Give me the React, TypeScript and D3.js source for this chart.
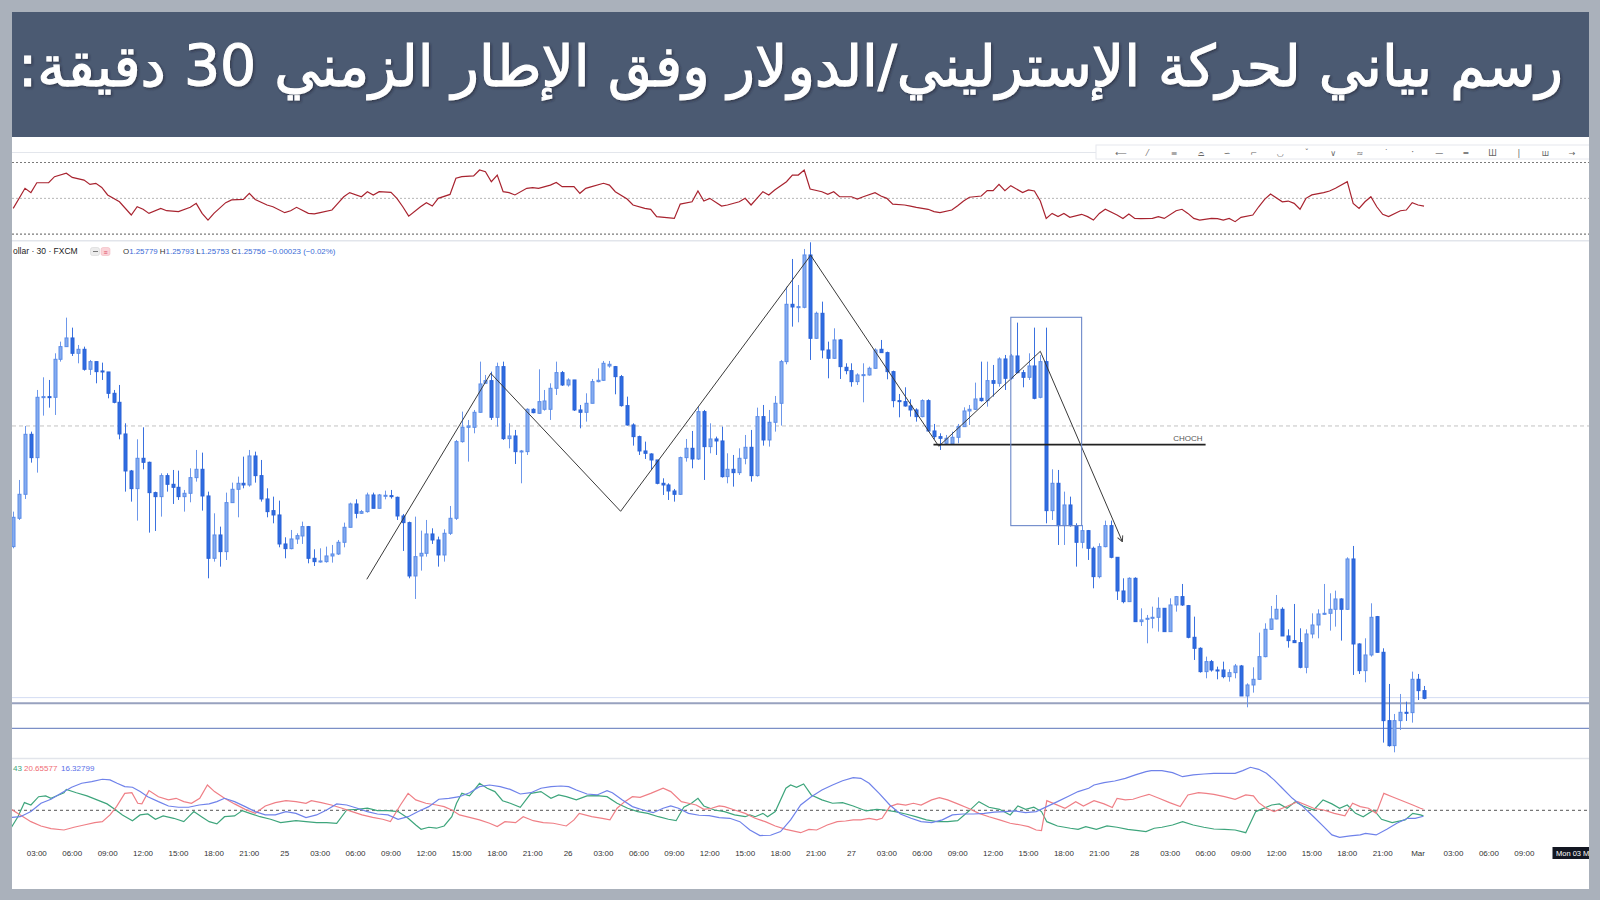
import React from "react";
import * as d3 from "d3";

const TITLE = "رسم بياني لحركة الإسترليني/الدولار وفق الإطار الزمني 30 دقيقة:";
const SYMBOL_VISIBLE = "ollar · 30 · FXCM";
const FIRST_INDEX = 2;

const opens = [
  1.26211, 1.26296, 1.26368, 1.26548, 1.26478, 1.26659, 1.26661, 1.26659, 1.26773, 1.26811,
  1.26837, 1.26791, 1.26803, 1.26743, 1.26766, 1.26738, 1.26735, 1.26671, 1.26644, 1.26549,
  1.26438, 1.26385, 1.26476, 1.26464, 1.26373, 1.26361, 1.26424, 1.26398, 1.26389, 1.26361,
  1.26371, 1.26418, 1.26443, 1.26363, 1.26176, 1.26246, 1.26196, 1.26343, 1.26383, 1.26401,
  1.26396, 1.26483, 1.26424, 1.26354, 1.26319, 1.26306, 1.26219, 1.26205, 1.26234, 1.26243,
  1.26271, 1.26176, 1.26166, 1.26166, 1.26183, 1.26189, 1.26224, 1.26269, 1.26339, 1.26311,
  1.26316, 1.26366, 1.26326, 1.26363, 1.26364, 1.26359, 1.26303, 1.26283, 1.26123, 1.26183,
  1.26191, 1.26249, 1.26231, 1.26186, 1.26251, 1.26296, 1.26526, 1.26569, 1.26569, 1.26614,
  1.26701, 1.26709, 1.26599, 1.26751, 1.26535, 1.26543, 1.26496, 1.26496, 1.26623, 1.26611,
  1.26623, 1.26623, 1.26686, 1.26733, 1.26696, 1.26711, 1.26621, 1.26614, 1.26641, 1.26706,
  1.26710, 1.26753, 1.26751, 1.26721, 1.26634, 1.26576, 1.26541, 1.26498, 1.26489, 1.26471,
  1.26401, 1.26396, 1.26378, 1.26368, 1.26478, 1.26506, 1.26474, 1.26616, 1.26511, 1.26534,
  1.26528, 1.26421, 1.26443, 1.26433, 1.26476, 1.26509, 1.26424, 1.26601, 1.26531, 1.26584,
  1.26641, 1.26766, 1.26938, 1.26930, 1.26929, 1.27086, 1.26836, 1.26911, 1.26801, 1.26776,
  1.26831, 1.26749, 1.26739, 1.26706, 1.26726, 1.26726, 1.26746, 1.26803, 1.26793, 1.26736,
  1.26649, 1.26646, 1.26633, 1.26621, 1.26601, 1.26649, 1.26558, 1.26541, 1.26521, 1.26519,
  1.26539, 1.26571, 1.26618, 1.26623, 1.26656, 1.26649, 1.26709, 1.26701, 1.26774, 1.26716,
  1.26783, 1.26733, 1.26719, 1.26753, 1.26659, 1.26766, 1.26319, 1.26401, 1.26274, 1.26336,
  1.26274, 1.26224, 1.26259, 1.26206, 1.26121, 1.26211, 1.26274, 1.26179, 1.26078, 1.26046,
  1.26116, 1.25986, 1.25993, 1.25996, 1.25999, 1.26026, 1.25956, 1.26036, 1.26061, 1.26034,
  1.25939, 1.25906, 1.25836, 1.25866, 1.25841, 1.25841, 1.25821, 1.25833, 1.25853, 1.25763,
  1.25796, 1.25813, 1.25881, 1.25963, 1.25994, 1.26023, 1.25943, 1.25929, 1.25923, 1.25849,
  1.25949, 1.25976, 1.26009, 1.26011, 1.26023, 1.26054, 1.26023, 1.26174, 1.25919, 1.25839,
  1.25886, 1.26001, 1.25894, 1.25689, 1.25614, 1.25689, 1.25714, 1.25713, 1.25813, 1.25779,
];
const highs = [
  1.26316, 1.26411, 1.26573, 1.26556, 1.26681, 1.26719, 1.26711, 1.26791, 1.26826, 1.26898,
  1.26868, 1.26816, 1.26811, 1.26771, 1.26766, 1.26763, 1.26735, 1.26681, 1.26696, 1.26581,
  1.26441, 1.26533, 1.26569, 1.26466, 1.26376, 1.26431, 1.26431, 1.26441, 1.26439, 1.26381,
  1.26446, 1.26501, 1.26493, 1.26376, 1.26311, 1.26271, 1.26373, 1.26403, 1.26421, 1.26481,
  1.26501, 1.26496, 1.26471, 1.26386, 1.26361, 1.26349, 1.26239, 1.26261, 1.26251, 1.26286,
  1.26273, 1.26203, 1.26206, 1.26211, 1.26216, 1.26231, 1.26283, 1.26343, 1.26353, 1.26321,
  1.26373, 1.26373, 1.26369, 1.26379, 1.26381, 1.26361, 1.26309, 1.26286, 1.26301, 1.26259,
  1.26291, 1.26266, 1.26241, 1.26263, 1.26333, 1.26531, 1.26616, 1.26591, 1.26621, 1.26766,
  1.26726, 1.26736, 1.26763, 1.26766, 1.26581, 1.26561, 1.26501, 1.26626, 1.26626, 1.26743,
  1.26681, 1.26701, 1.26766, 1.26738, 1.26716, 1.26711, 1.26636, 1.26671, 1.26714, 1.26746,
  1.26768, 1.26768, 1.26753, 1.26726, 1.26661, 1.26581, 1.26544, 1.26526, 1.26491, 1.26471,
  1.26416, 1.26401, 1.26384, 1.26481, 1.26534, 1.26558, 1.26631, 1.26621, 1.26581, 1.26541,
  1.26571, 1.26491, 1.26486, 1.26506, 1.26546, 1.26561, 1.26628, 1.26636, 1.26621, 1.26663,
  1.26771, 1.26991, 1.27074, 1.26996, 1.27104, 1.27124, 1.26916, 1.26946, 1.26826, 1.26866,
  1.26834, 1.26761, 1.26761, 1.26731, 1.26761, 1.26751, 1.26806, 1.26831, 1.26796, 1.26739,
  1.26669, 1.26689, 1.26653, 1.26626, 1.26653, 1.26653, 1.26579, 1.26551, 1.26546, 1.26556,
  1.26579, 1.26629, 1.26636, 1.26703, 1.26766, 1.26766, 1.26756, 1.26779, 1.26786, 1.26789,
  1.26883, 1.26741, 1.26791, 1.26868, 1.26786, 1.26868, 1.26443, 1.26441, 1.26376, 1.26361,
  1.26281, 1.26276, 1.26261, 1.26211, 1.26221, 1.26289, 1.26289, 1.26179, 1.26116, 1.26119,
  1.26119, 1.26026, 1.26006, 1.26031, 1.26059, 1.26026, 1.26056, 1.26063, 1.26099, 1.26036,
  1.26001, 1.25909, 1.25881, 1.25871, 1.25851, 1.25866, 1.25843, 1.25859, 1.25856, 1.25801,
  1.25849, 1.25953, 1.25981, 1.26033, 1.26066, 1.26029, 1.25963, 1.26039, 1.25966, 1.25963,
  1.26011, 1.26023, 1.26099, 1.26071, 1.26079, 1.26056, 1.26179, 1.26213, 1.25921, 1.25936,
  1.26041, 1.26003, 1.25906, 1.25799, 1.25709, 1.25769, 1.25746, 1.25836, 1.25829, 1.25793,
];
const lows = [
  1.26206, 1.26291, 1.26354, 1.26463, 1.26433, 1.26604, 1.26628, 1.26606, 1.26766, 1.26811,
  1.26783, 1.26761, 1.26739, 1.26726, 1.26701, 1.26711, 1.26656, 1.26641, 1.26533, 1.26376,
  1.26346, 1.26289, 1.26443, 1.26253, 1.26258, 1.26301, 1.26376, 1.26339, 1.26351, 1.26316,
  1.26344, 1.26406, 1.26319, 1.26116, 1.26166, 1.26151, 1.26171, 1.26343, 1.26299, 1.26386,
  1.26391, 1.26403, 1.26346, 1.26299, 1.26281, 1.26209, 1.26176, 1.26203, 1.26219, 1.26219,
  1.26161, 1.26153, 1.26163, 1.26163, 1.26163, 1.26186, 1.26209, 1.26269, 1.26296, 1.26309,
  1.26313, 1.26326, 1.26326, 1.26353, 1.26355, 1.26291, 1.26198, 1.26116, 1.26054, 1.26139,
  1.26181, 1.26219, 1.26151, 1.26166, 1.26246, 1.26291, 1.26523, 1.26466, 1.26551, 1.26613,
  1.26701, 1.26591, 1.26571, 1.26531, 1.26506, 1.26459, 1.26401, 1.26486, 1.26611, 1.26609,
  1.26619, 1.26591, 1.26666, 1.26693, 1.26691, 1.26618, 1.26566, 1.26586, 1.26641, 1.26704,
  1.26708, 1.26748, 1.26668, 1.26631, 1.26574, 1.26514, 1.26486, 1.26474, 1.26441, 1.26398,
  1.26366, 1.26351, 1.26346, 1.26366, 1.26466, 1.26446, 1.26471, 1.26411, 1.26491, 1.26486,
  1.26418, 1.26401, 1.26391, 1.26426, 1.26458, 1.26406, 1.26421, 1.26514, 1.26511, 1.26556,
  1.26574, 1.26758, 1.26871, 1.26884, 1.26926, 1.26771, 1.26834, 1.26776, 1.26716, 1.26774,
  1.26714, 1.26728, 1.26691, 1.26696, 1.26644, 1.26724, 1.26744, 1.26793, 1.26713, 1.26629,
  1.26599, 1.26631, 1.26601, 1.26586, 1.26599, 1.26556, 1.26533, 1.26501, 1.26519, 1.26516,
  1.26521, 1.26571, 1.26576, 1.26621, 1.26646, 1.26631, 1.26661, 1.26691, 1.26681, 1.26711,
  1.26731, 1.26689, 1.26711, 1.26653, 1.26656, 1.26281, 1.26291, 1.26216, 1.26216, 1.26271,
  1.26151, 1.26206, 1.26171, 1.26086, 1.26116, 1.26209, 1.26176, 1.26051, 1.26041, 1.26046,
  1.25986, 1.25973, 1.25921, 1.25966, 1.25956, 1.25956, 1.25956, 1.26016, 1.26033, 1.25936,
  1.25871, 1.25833, 1.25816, 1.25836, 1.25813, 1.25816, 1.25806, 1.25816, 1.25763, 1.25729,
  1.25773, 1.25811, 1.25879, 1.25961, 1.25993, 1.25943, 1.25908, 1.25923, 1.25846, 1.25831,
  1.25936, 1.25936, 1.26006, 1.25959, 1.25971, 1.25929, 1.26021, 1.25826, 1.25829, 1.25804,
  1.25881, 1.25893, 1.25623, 1.25611, 1.25594, 1.25661, 1.25688, 1.25683, 1.25751, 1.25753,
];
const closes = [
  1.26299, 1.26368, 1.26548, 1.26478, 1.26659, 1.26661, 1.26659, 1.26773, 1.26811, 1.26837,
  1.26791, 1.26803, 1.26743, 1.26766, 1.26736, 1.26735, 1.26671, 1.26644, 1.26549, 1.26438,
  1.26385, 1.26476, 1.26464, 1.26373, 1.26361, 1.26424, 1.26398, 1.26389, 1.26361, 1.26371,
  1.26418, 1.26443, 1.26363, 1.26176, 1.26246, 1.26196, 1.26343, 1.26383, 1.26401, 1.26396,
  1.26483, 1.26424, 1.26354, 1.26316, 1.26306, 1.26219, 1.26205, 1.26234, 1.26244, 1.26271,
  1.26176, 1.26166, 1.26168, 1.26183, 1.26189, 1.26224, 1.26269, 1.26339, 1.26311, 1.26316,
  1.26366, 1.26326, 1.26366, 1.26365, 1.26362, 1.26303, 1.26283, 1.26123, 1.26181, 1.26191,
  1.26249, 1.26231, 1.26186, 1.26251, 1.26296, 1.26526, 1.26569, 1.26573, 1.26614, 1.26699,
  1.26709, 1.26599, 1.26751, 1.26535, 1.26543, 1.26496, 1.26498, 1.26623, 1.26613, 1.26646,
  1.26648, 1.26686, 1.26733, 1.26696, 1.26711, 1.26621, 1.26614, 1.26641, 1.26706, 1.26710,
  1.26761, 1.26758, 1.26721, 1.26634, 1.26576, 1.26541, 1.26498, 1.26491, 1.26471, 1.26401,
  1.26396, 1.26378, 1.26368, 1.26478, 1.26506, 1.26474, 1.26616, 1.26511, 1.26534, 1.26528,
  1.26421, 1.26443, 1.26433, 1.26476, 1.26509, 1.26424, 1.26601, 1.26531, 1.26584, 1.26641,
  1.26766, 1.26938, 1.26930, 1.26931, 1.27086, 1.26836, 1.26911, 1.26801, 1.26776, 1.26831,
  1.26751, 1.26739, 1.26706, 1.26726, 1.26727, 1.26746, 1.26801, 1.26793, 1.26736, 1.26649,
  1.26646, 1.26633, 1.26621, 1.26601, 1.26649, 1.26558, 1.26541, 1.26536, 1.26536, 1.26539,
  1.26571, 1.26618, 1.26623, 1.26654, 1.26649, 1.26709, 1.26701, 1.26774, 1.26716, 1.26783,
  1.26733, 1.26719, 1.26753, 1.26656, 1.26766, 1.26319, 1.26401, 1.26274, 1.26336, 1.26274,
  1.26224, 1.26259, 1.26206, 1.26121, 1.26211, 1.26274, 1.26179, 1.26078, 1.26046, 1.26116,
  1.25986, 1.25991, 1.25996, 1.25999, 1.26026, 1.25956, 1.26036, 1.26061, 1.26036, 1.25939,
  1.25906, 1.25836, 1.25866, 1.25841, 1.25839, 1.25821, 1.25833, 1.25853, 1.25763, 1.25796,
  1.25813, 1.25881, 1.25963, 1.25994, 1.26023, 1.25943, 1.25929, 1.25923, 1.25849, 1.25949,
  1.25976, 1.26009, 1.26011, 1.26023, 1.26054, 1.26023, 1.26174, 1.25919, 1.25839, 1.25886,
  1.25999, 1.25894, 1.25689, 1.25614, 1.25689, 1.25714, 1.25713, 1.25813, 1.25779, 1.25756,
];

// RSI readings: [candle index, value]
const rsiPoints: [number, number][] = [
  [2,44.4],[4,55.6],[5,53.2],[6,58.7],[8,58.7],[9,62.1],[11,64.0],[12,61.7],[14,60.2],[15,57.8],
  [16,58.4],[17,56.1],[18,51.9],[20,48.1],[22,40.7],[23,45.3],[24,43.9],[25,41.6],[27,44.4],[28,43.1],
  [30,42.6],[32,45.0],[33,47.2],[34,41.6],[35,37.9],[36,41.6],[38,47.6],[39,49.1],[41,49.4],[42,52.8],
  [43,49.4],[45,46.3],[46,45.3],[48,42.0],[49,43.1],[50,45.0],[52,41.6],[53,41.3],[54,42.0],[56,43.5],
  [57,47.2],[58,50.9],[59,53.2],[61,50.9],[62,53.7],[63,51.9],[64,53.7],[66,53.3],[67,50.0],[68,45.3],
  [69,40.1],[71,45.3],[72,47.6],[73,45.7],[74,50.0],[76,52.2],[77,61.2],[78,62.1],[80,62.5],[81,65.8],
  [82,64.9],[83,59.3],[84,63.0],[85,53.7],[86,53.2],[87,51.9],[89,55.6],[90,56.0],[91,55.6],[93,57.4],
  [94,58.9],[95,56.5],[97,56.5],[98,52.8],[99,55.6],[100,56.5],[102,58.4],[103,57.4],[104,53.7],[106,49.6],
  [107,46.3],[109,44.4],[110,43.9],[111,39.8],[114,38.8],[115,46.8],[117,48.1],[118,54.1],[119,48.5],[120,50.0],
  [122,45.7],[123,46.3],[125,48.1],[126,50.0],[127,46.3],[129,53.7],[130,51.9],[131,54.7],[133,59.3],[134,63.0],
  [135,63.0],[136,65.8],[137,55.2],[139,53.7],[140,52.2],[141,53.7],[142,50.9],[144,50.9],[145,49.6],[146,50.9],
  [148,53.2],[149,51.3],[150,50.0],[151,46.8],[153,46.3],[154,45.7],[155,45.0],[157,43.9],[158,42.6],[159,42.0],
  [161,43.5],[162,45.9],[163,48.5],[164,50.6],[166,51.3],[167,54.3],[168,54.3],[169,57.8],[170,54.3],[171,57.1],
  [173,53.2],[174,54.7],[175,54.1],[176,48.5],[177,38.8],[178,41.6],[179,39.8],[180,41.6],[181,39.4],[183,41.1],
  [184,39.8],[185,37.9],[186,41.6],[187,43.9],[189,40.7],[190,38.8],[191,41.3],[192,38.8],[193,38.7],[195,38.8],
  [196,39.8],[197,38.8],[199,43.1],[200,43.9],[201,41.6],[202,38.8],[203,37.9],[205,38.8],[206,38.7],[207,37.9],
  [208,38.8],[209,37.0],[210,39.4],[212,40.7],[213,45.3],[214,49.4],[215,52.4],[217,48.1],[218,48.5],[219,47.2],
  [220,43.9],[221,50.0],[222,51.9],[224,53.2],[225,54.1],[226,55.6],[228,59.3],[229,47.2],[230,44.4],[231,48.1],
  [232,50.9],[233,45.3],[234,41.1],[235,39.8],[237,43.1],[238,43.5],[239,47.6],[240,46.3],[241,45.7],
];

// Directional-movement pane readings: [candle index, value]
const dmiBlue: [number, number][] = [
  [1.7,15.6],[3.2,16.0],[5.0,19.2],[6.7,24.4],[8.4,26.9],[10.1,30.6],[11.9,34.4],[13.6,36.9],[15.3,37.9],[17.1,39.4],
  [18.4,39.0],[19.6,36.9],[20.9,34.8],[22.2,34.4],[23.5,31.7],[24.8,28.5],[26.6,25.4],[28.3,22.7],[30.0,21.9],[31.7,21.9],
  [33.5,23.3],[35.2,24.0],[36.5,25.4],[37.8,27.5],[39.5,25.4],[41.3,22.3],[43.0,19.2],[44.7,17.1],[46.4,17.1],[48.2,19.2],
  [49.9,18.1],[51.6,15.4],[53.4,17.1],[55.1,20.2],[56.8,24.0],[58.5,23.3],[60.3,21.3],[62.0,19.2],[63.7,17.7],[65.5,17.1],
  [67.2,14.4],[68.9,16.0],[70.6,19.2],[72.4,22.3],[74.1,26.9],[75.8,27.5],[77.6,28.5],[79.3,31.0],[81.0,34.8],[82.7,35.8],
  [84.5,34.8],[86.2,33.1],[87.9,30.2],[89.7,31.0],[91.4,33.8],[93.1,34.8],[94.8,35.2],[96.1,34.8],[97.4,32.7],[99.2,30.2],
  [100.9,29.6],[102.6,32.3],[103.5,31.0],[105.2,26.5],[106.9,22.3],[108.7,20.2],[110.4,18.5],[112.1,21.3],[113.4,22.7],[114.7,21.3],
  [116.4,18.1],[118.2,16.9],[119.9,16.7],[121.6,15.4],[123.4,15.0],[125.1,12.9],[126.8,7.7],[128.5,4.2],[130.3,4.4],[132.0,6.7],
  [133.7,14.0],[135.4,23.3],[137.2,28.5],[139.0,32.7],[140.8,35.8],[142.5,38.5],[144.3,40.4],[145.6,40.0],[147.0,36.9],[148.7,30.6],
  [150.5,23.3],[152.3,17.7],[154.1,15.0],[155.8,12.9],[157.6,12.3],[159.4,14.0],[161.1,17.1],[162.9,17.7],[164.7,17.7],[166.5,18.1],
  [168.2,18.8],[170.0,19.2],[171.8,19.6],[173.5,18.5],[175.3,19.2],[177.1,22.3],[178.9,25.4],[180.6,28.5],[182.4,31.7],[184.2,33.8],
  [185.1,35.8],[186.8,37.3],[188.6,38.3],[190.4,40.0],[192.1,42.1],[193.9,44.2],[194.8,44.8],[196.6,44.8],[198.4,43.5],[200.1,41.0],
  [201.9,42.1],[203.7,42.7],[205.4,43.1],[207.2,43.1],[209.0,43.1],[210.3,44.8],[211.6,46.9],[213.0,45.6],[214.3,43.1],[215.6,39.0],
  [217.0,33.8],[218.7,27.5],[220.5,22.3],[222.3,16.0],[224.0,9.8],[225.4,4.6],[226.7,3.1],[228.5,4.0],[230.2,4.6],[231.1,5.6],
  [232.9,4.6],[234.7,8.1],[236.4,11.9],[238.2,15.0],[239.5,15.0],[240.9,16.3],
];
const dmiRed: [number, number][] = [
  [1.7,20.6],[3.2,17.1],[5.0,12.9],[6.7,10.2],[8.4,8.5],[10.6,7.7],[12.3,9.4],[14.0,10.8],[15.8,12.3],[17.1,12.9],
  [18.4,17.1],[19.5,22.3],[20.9,30.6],[22.1,31.0],[23.1,24.4],[23.8,24.0],[25.0,32.3],[26.6,28.5],[28.3,26.5],[29.6,27.5],
  [30.9,25.4],[32.2,24.4],[33.6,27.5],[34.9,35.8],[36.1,31.7],[37.8,27.5],[39.5,24.0],[41.3,20.6],[43.0,18.1],[44.7,22.7],
  [46.4,24.8],[48.2,26.0],[49.9,25.4],[51.6,24.4],[52.5,26.0],[54.2,24.8],[55.9,23.3],[57.7,21.3],[59.4,19.2],[61.1,17.1],
  [62.9,15.6],[64.6,14.4],[65.9,12.9],[67.6,23.3],[68.9,30.6],[70.2,26.5],[71.9,24.4],[73.7,23.3],[75.0,22.3],[76.3,20.2],
  [77.6,17.1],[79.3,15.6],[81.0,14.0],[82.7,11.9],[84.0,9.8],[85.3,12.9],[87.1,12.3],[88.4,16.0],[90.1,13.5],[91.8,12.3],
  [93.5,11.9],[95.7,10.2],[97.0,14.0],[97.9,18.1],[100.0,16.0],[101.8,15.0],[103.1,14.0],[104.3,21.3],[105.6,25.4],[106.9,28.5],
  [108.2,28.1],[110.0,30.6],[112.1,33.8],[113.4,31.7],[115.2,25.4],[116.4,24.4],[117.7,23.3],[119.0,20.6],[120.3,21.3],[121.6,22.7],
  [122.5,22.3],[124.2,20.2],[126.0,18.1],[127.7,15.0],[129.4,12.9],[131.1,10.2],[132.9,8.1],[135.4,6.0],[136.8,8.1],[138.1,7.7],
  [139.9,10.8],[141.6,12.9],[143.0,13.3],[144.3,14.0],[145.6,14.0],[147.0,15.0],[148.3,14.0],[149.2,15.0],[150.5,22.3],[151.8,24.0],
  [153.2,23.3],[154.5,24.4],[155.8,23.3],[157.6,26.5],[158.9,27.9],[160.3,26.5],[162.0,24.0],[163.8,21.3],[165.6,18.1],[167.3,16.0],
  [169.1,14.0],[170.9,11.9],[172.7,10.8],[174.0,9.8],[175.3,7.7],[176.2,7.3],[177.1,26.0],[178.4,24.0],[180.2,21.3],[182.0,25.4],
  [183.3,22.7],[185.1,26.0],[186.8,24.0],[188.2,21.7],[189.0,27.5],[190.4,26.5],[191.7,26.9],[193.0,28.5],[194.4,30.0],[196.1,27.5],
  [197.9,24.8],[199.7,22.3],[201.0,29.6],[202.8,31.0],[204.1,30.6],[205.4,30.0],[207.2,28.5],[209.0,26.9],[210.8,29.6],[212.1,29.0],
  [213.0,24.8],[214.3,21.3],[215.6,19.2],[217.0,21.3],[218.3,23.3],[219.6,25.4],[221.0,23.3],[222.3,21.3],[224.0,20.2],[225.8,18.1],
  [227.6,16.5],[228.9,24.4],[230.2,22.3],[231.6,21.3],[232.9,18.1],[234.2,30.6],[235.6,28.5],[237.3,26.0],[239.1,23.3],[240.4,21.3],
  [240.9,20.66],
];
const dmiGreen: [number, number][] = [
  [1.7,9.4],[2.8,16.0],[3.9,24.8],[5.0,23.3],[6.3,28.5],[7.5,29.0],[8.4,27.5],[9.7,29.6],[10.6,31.0],[11.0,33.1],
  [12.7,31.0],[14.5,29.0],[16.2,26.5],[17.9,24.0],[19.2,20.6],[20.5,17.1],[22.2,13.5],[23.5,17.1],[24.8,17.7],[26.1,14.4],
  [27.4,16.5],[29.2,15.0],[30.9,12.9],[32.6,19.2],[33.9,16.0],[35.2,12.9],[36.5,11.5],[37.8,16.0],[39.5,16.5],[40.8,19.8],
  [42.1,18.1],[43.8,16.0],[45.6,14.4],[47.3,12.3],[48.6,12.9],[49.9,13.5],[51.6,12.9],[53.4,12.3],[55.1,12.3],[56.8,11.9],
  [58.5,20.2],[60.3,20.6],[62.0,21.3],[63.7,19.8],[65.5,19.8],[67.2,19.2],[68.9,15.0],[70.2,10.8],[71.1,8.1],[72.4,9.4],
  [73.7,8.8],[75.0,10.2],[76.3,16.0],[77.1,24.4],[78.0,30.6],[79.3,29.0],[81.0,36.9],[82.3,33.8],[83.6,31.7],[84.9,26.0],
  [86.2,24.4],[87.9,21.9],[89.7,30.6],[91.4,31.7],[93.1,27.5],[94.4,29.6],[95.7,28.5],[97.4,26.5],[99.2,29.0],[100.9,29.2],
  [102.6,28.5],[104.3,24.4],[106.1,21.3],[107.8,19.2],[109.5,18.1],[111.3,16.0],[113.0,14.4],[114.3,13.5],[115.6,21.9],[116.9,24.4],
  [118.0,27.5],[119.0,22.7],[120.8,20.2],[122.5,19.2],[124.2,17.1],[126.0,16.0],[126.8,17.1],[127.7,16.0],[129.0,18.1],[129.8,16.0],
  [131.1,19.2],[132.9,33.8],[133.7,35.8],[134.7,34.4],[135.9,36.5],[137.2,29.6],[139.0,26.5],[140.8,24.4],[142.5,24.8],[144.3,22.7],
  [146.5,19.6],[148.3,20.6],[149.6,20.2],[151.4,19.2],[153.2,17.7],[154.9,16.0],[156.7,14.0],[158.5,12.9],[160.3,12.9],[162.0,13.5],
  [163.8,19.2],[165.6,25.4],[167.3,21.9],[169.1,20.6],[170.9,17.1],[172.2,22.7],[173.5,20.6],[174.9,21.9],[176.2,19.2],[177.1,12.9],
  [178.9,10.2],[181.1,8.8],[182.4,8.1],[183.7,9.8],[185.5,8.1],[187.3,10.2],[189.0,9.4],[190.8,8.1],[192.6,7.3],[193.9,6.7],
  [195.3,8.8],[196.6,9.4],[198.4,10.8],[200.1,12.9],[201.9,10.8],[203.7,9.4],[205.4,8.3],[207.2,8.1],[209.0,7.7],[210.8,6.0],
  [212.5,19.2],[213.4,20.6],[215.2,23.3],[216.5,24.0],[217.8,21.3],[219.2,25.4],[220.5,22.7],[222.3,20.2],[223.9,26.5],[225.4,24.0],
  [226.7,21.3],[228.0,23.3],[229.4,18.1],[230.7,16.0],[232.5,20.2],[233.8,14.4],[235.6,12.3],[237.8,14.0],[239.1,18.1],[240.4,17.1],
  [240.9,16.5],
];

// Swing zigzag drawn on the price pane: [candle index, price]
const zigzag: [number, number][] = [
  [61.9, 1.26113], [82.9, 1.26731], [104.9, 1.26317], [137.1, 1.27085],
  [158.8, 1.26512], [176.0, 1.26797], [189.9, 1.26226],
];
const chochLevel = 1.26517;
const chochFrom = 157.9;
const chochTo = 204.0;
const chochLabelAt = 201.0;
const boxFrom = 171.0, boxTo = 183.0, boxTop = 1.26899, boxBottom = 1.26274;
const dashedLevel = 1.26573;
const supportLevels = [1.25741, 1.25666];
const lastPriceLevel = 1.25758;

const tickLabels = [
  "03:00","06:00","09:00","12:00","15:00","18:00","21:00","25",
  "03:00","06:00","09:00","12:00","15:00","18:00","21:00","26",
  "03:00","06:00","09:00","12:00","15:00","18:00","21:00","27",
  "03:00","06:00","09:00","12:00","15:00","18:00","21:00","28",
  "03:00","06:00","09:00","12:00","15:00","18:00","21:00","Mar",
  "03:00","06:00","09:00",
];
const TICK_STEP = 6;
const CROSSHAIR_LABEL = "Mon 03 M";
const dmiLegend = ["43", "20.65577", "16.32799"];
const toolbarGlyphs = ["⟵","⁄","≡","⌓","∽","⌐","◡","ˇ","∨","≈","˙","ˑ","—","═","Ш","|","ш","→"];

const FONT = "'Liberation Sans', Arial, sans-serif";

export default function App() {
  const x = d3.scaleLinear().domain([0, 240]).range([1.4, 1418.1]);
  const yP = d3.scaleLinear().domain([1.25756, 1.27256]).range([698.3, 198.3]);
  const yR = d3.scaleLinear().domain([30, 70]).range([234.2, 162.5]);
  const yD = d3.scaleLinear().domain([20, 40]).range([810.3, 778.3]);

  const rsiLine = d3.line<[number, number]>().x((d) => x(d[0])).y((d) => yR(d[1]));
  const dmiLine = d3.line<[number, number]>().x((d) => x(d[0])).y((d) => yD(d[1]));
  const zigLine = d3.line<[number, number]>().x((d) => x(d[0])).y((d) => yP(d[1]));
  const toolX = d3.scalePoint<number>().domain(d3.range(toolbarGlyphs.length)).range([1121, 1572]);

  const L = 12, R = 1589, T = 137, B = 889;

  return (
    <svg width={1600} height={900} viewBox="0 0 1600 900"
      style={{ position: "absolute", left: 0, top: 0, display: "block" }}>
      <defs>
        <clipPath id="chartClip"><rect x={L} y={T} width={R - L} height={B - T} /></clipPath>
        <filter id="tshadow" x="-5%" y="-20%" width="110%" height="140%">
          <feDropShadow dx="1.5" dy="1.5" stdDeviation="1" floodColor="#1a2230" floodOpacity="0.55" />
        </filter>
        <marker id="arrowHead" viewBox="0 0 10 10" refX="9" refY="5" markerWidth="7" markerHeight="7" orient="auto">
          <path d="M1,1 L9,5 L1,9" fill="none" stroke="#444" strokeWidth="1.4" />
        </marker>
      </defs>

      {/* frame */}
      <rect x={0} y={0} width={1600} height={900} fill="#aab1bb" />
      <rect x={L} y={12} width={R - L} height={T - 12} fill="#4b5a72" />
      <rect x={L} y={T} width={R - L} height={B - T} fill="#ffffff" />

      {/* title */}
      <text x={790.5} y={86} textAnchor="middle" fontFamily="'DejaVu Sans', sans-serif"
        fontSize={57} fill="#ffffff" stroke="#ffffff" strokeWidth={1.1} textLength={1545}
        lengthAdjust="spacingAndGlyphs" direction="rtl" filter="url(#tshadow)">{TITLE}</text>

      <g clipPath="url(#chartClip)">
        {/* toolbar strip */}
        <line x1={L} x2={1096} y1={152.5} y2={152.5} stroke="#e3e6ec" strokeWidth={1} />
        <rect x={1096} y={145} width={R - 1096 + 2} height={14} fill="#ffffff" stroke="#e6e8ee" />
        {toolbarGlyphs.map((g, k) => (
          <text key={k} x={toolX(k)} y={155.5} textAnchor="middle" fontSize={8} fill="#666"
            fontFamily="'DejaVu Sans', sans-serif">{g}</text>
        ))}

        {/* RSI pane */}
        <line x1={L} x2={R} y1={yR(70)} y2={yR(70)} stroke="#7a7a7a" strokeWidth={1.2} strokeDasharray="2 2" />
        <line x1={L} x2={R} y1={yR(50)} y2={yR(50)} stroke="#b5b5b5" strokeWidth={1} strokeDasharray="2 2" />
        <line x1={L} x2={R} y1={yR(30)} y2={yR(30)} stroke="#7a7a7a" strokeWidth={1.2} strokeDasharray="2 2" />
        <path d={rsiLine(rsiPoints) || ""} fill="none" stroke="#a8232f" strokeWidth={1.2} />
        <line x1={L} x2={R} y1={240.8} y2={240.8} stroke="#e2e5eb" strokeWidth={1.5} />

        {/* main pane */}
        <line x1={L} x2={R} y1={yP(dashedLevel)} y2={yP(dashedLevel)} stroke="#c2c2c2" strokeWidth={1} strokeDasharray="4 3" />
        <line x1={L} x2={R} y1={yP(lastPriceLevel)} y2={yP(lastPriceLevel)} stroke="#d3dcf3" strokeWidth={1} />
        <line x1={L} x2={R} y1={yP(supportLevels[0])} y2={yP(supportLevels[0])} stroke="#98a2bf" strokeWidth={2} />
        <line x1={L} x2={R} y1={yP(supportLevels[1])} y2={yP(supportLevels[1])} stroke="#7b8fc6" strokeWidth={1.3} />

        {opens.map((o, k) => {
          const i = FIRST_INDEX + k;
          const c = closes[k];
          const up = c >= o;
          const cx = Math.round(x(i));
          const yo = yP(o), yc = yP(c);
          const top = Math.min(yo, yc);
          const h = Math.max(1, Math.abs(yo - yc));
          return (
            <g key={k}>
              <line x1={cx + 0.5} x2={cx + 0.5} y1={yP(highs[k])} y2={yP(lows[k])}
                stroke={up ? "#6d97ea" : "#3a71df"} strokeWidth={1} />
              <rect x={cx - 1} y={top} width={3} height={h}
                fill={up ? "#86acef" : "#2f6ce1"} stroke={up ? "#5b8ce8" : "#2a62d6"} strokeWidth={1} />
            </g>
          );
        })}

        {/* annotations */}
        <path d={zigLine(zigzag) || ""} fill="none" stroke="#3a3a3a" strokeWidth={1} markerEnd="url(#arrowHead)" />
        <line x1={x(chochFrom)} x2={x(chochTo)} y1={yP(chochLevel)} y2={yP(chochLevel)} stroke="#222" strokeWidth={1.6} />
        <text x={x(chochLabelAt)} y={yP(chochLevel) - 4} textAnchor="middle" fontSize={8} fill="#555" fontFamily={FONT}>CHOCH</text>
        <rect x={x(boxFrom)} y={yP(boxTop)} width={x(boxTo) - x(boxFrom)} height={yP(boxBottom) - yP(boxTop)}
          fill="none" stroke="#6c88c9" strokeWidth={1.1} />

        {/* main legend */}
        <text x={13} y={254} fontSize={8.5} fill="#222" fontFamily={FONT}>{SYMBOL_VISIBLE}</text>
        <rect x={90.5} y={247.5} width={9} height={8} rx={2} fill="#ececec" stroke="#d0d0d0" strokeWidth={0.5} />
        <line x1={93} x2={98} y1={251.5} y2={251.5} stroke="#777" strokeWidth={1} />
        <rect x={101} y={247.5} width={9} height={8} rx={2} fill="#fad4d9" stroke="#f0b0b8" strokeWidth={0.5} />
        <text x={105.5} y={254.5} textAnchor="middle" fontSize={7} fill="#e04b5e" fontFamily={FONT}>≡</text>
        <text x={123} y={254} fontSize={7.9} fontFamily={FONT} fill="#3a6bd6">
          <tspan fill="#333">O</tspan>1.25779 <tspan fill="#333">H</tspan>1.25793 <tspan fill="#333">L</tspan>1.25753 <tspan fill="#333">C</tspan>1.25756 −0.00023 (−0.02%)
        </text>

        <line x1={L} x2={R} y1={758.5} y2={758.5} stroke="#e2e5eb" strokeWidth={1.5} />

        {/* DMI pane */}
        <line x1={L} x2={R} y1={yD(20)} y2={yD(20)} stroke="#555" strokeWidth={1} strokeDasharray="3 3" />
        <path d={dmiLine(dmiGreen) || ""} fill="none" stroke="#3ea57c" strokeWidth={1.2} />
        <path d={dmiLine(dmiRed) || ""} fill="none" stroke="#ef7f86" strokeWidth={1.2} />
        <path d={dmiLine(dmiBlue) || ""} fill="none" stroke="#6f82ea" strokeWidth={1.2} />
        <text x={13} y={770.5} fontSize={8} fill="#3ea57c" fontFamily={FONT}>{dmiLegend[0]}</text>
        <text x={24} y={770.5} fontSize={8} fill="#ef6b73" fontFamily={FONT}>{dmiLegend[1]}</text>
        <text x={61} y={770.5} fontSize={8} fill="#5a6fe8" fontFamily={FONT}>{dmiLegend[2]}</text>

        {/* time axis */}
        {tickLabels.map((t, k) => (
          <text key={k} x={x((k + 1) * TICK_STEP)} y={856} textAnchor="middle" fontSize={8} fill="#333"
            fontFamily={FONT}>{t}</text>
        ))}
        <rect x={1552.5} y={847} width={40} height={12} fill="#131722" />
        <text x={1556} y={856} fontSize={7.5} fill="#ffffff" fontFamily={FONT}>{CROSSHAIR_LABEL}</text>
      </g>
    </svg>
  );
}
